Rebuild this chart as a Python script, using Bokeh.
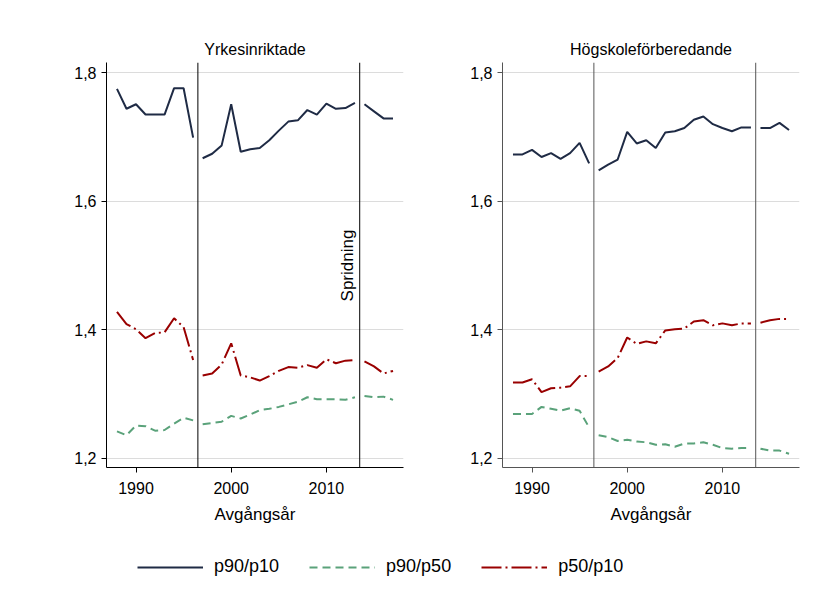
import math
from bokeh.plotting import figure
from bokeh.models import Span, Label, FixedTicker, Legend, LegendItem, Range1d
from bokeh.layouts import column, row
from bokeh.embed import file_html
from bokeh.resources import INLINE

# ---------------- data ----------------
years = list(range(1988, 2018))
series_breaks = [1996.5, 2013.5]
panel_titles = ["Yrkesinriktade", "Högskoleförberedande"]
series_labels = ["p90/p10", "p90/p50", "p50/p10"]
x_ticks = [1990, 2000, 2010]
y_ticks = [1.2, 1.4, 1.6, 1.8]
y_tick_labels = ["1,2", "1,4", "1,6", "1,8"]
x_label = "Avgångsår"
note_text = "Spridning"

yrk_p90p10 = [1.775, 1.744, 1.751, 1.735, 1.735, 1.735, 1.776, 1.776, 1.699,
              1.667, 1.674, 1.687, 1.751, 1.677, 1.681, 1.683, 1.695, 1.710, 1.724,
              1.726, 1.742, 1.735, 1.752, 1.744, 1.745, 1.753,
              1.751, 1.740, 1.729, 1.729]
yrk_p90p50 = [1.242, 1.236, 1.251, 1.250, 1.243, 1.244, 1.254, 1.263, 1.259,
              1.253, 1.255, 1.257, 1.266, 1.262, 1.268, 1.275, 1.277, 1.280, 1.284,
              1.288, 1.295, 1.292, 1.292, 1.292, 1.291, 1.295,
              1.297, 1.295, 1.296, 1.291]
yrk_p50p10 = [1.428, 1.409, 1.401, 1.387, 1.395, 1.396, 1.418, 1.404, 1.353,
              1.329, 1.332, 1.346, 1.379, 1.329, 1.326, 1.321, 1.328, 1.336, 1.342,
              1.341, 1.345, 1.341, 1.354, 1.348, 1.352, 1.353,
              1.351, 1.343, 1.332, 1.336]

hog_p90p10 = [1.673, 1.673, 1.680, 1.669, 1.675, 1.666, 1.675, 1.691, 1.659,
              1.648, 1.657, 1.665, 1.708, 1.690, 1.695, 1.683, 1.707, 1.709, 1.714,
              1.727, 1.732, 1.720, 1.714, 1.709, 1.715, 1.715,
              1.714, 1.714, 1.722, 1.711]
hog_p90p50 = [1.269, 1.269, 1.269, 1.280, 1.277, 1.274, 1.278, 1.274, 1.248,
              1.236, 1.233, 1.227, 1.229, 1.226, 1.225, 1.221, 1.222, 1.218, 1.223,
              1.223, 1.225, 1.221, 1.216, 1.215, 1.216, 1.216,
              1.215, 1.212, 1.212, 1.207]
hog_p50p10 = [1.318, 1.318, 1.323, 1.303, 1.309, 1.310, 1.312, 1.328, 1.328,
              1.335, 1.343, 1.356, 1.388, 1.378, 1.382, 1.379, 1.399, 1.401, 1.402,
              1.413, 1.415, 1.407, 1.410, 1.407, 1.410, 1.410,
              1.411, 1.415, 1.417, 1.417]

# ---------------- style ----------------
FONT = "Liberation Sans"
colors = ["#1f2b45", "#5aa27a", "#990000"]
dashes = ["solid", "8 5", "20 4 2 4"]
LW = 2

panels = [
    (panel_titles[0], [yrk_p90p10, yrk_p90p50, yrk_p50p10], "black", 106, 8, True),
    (panel_titles[1], [hog_p90p10, hog_p90p50, hog_p50p10], "#555555", 91, 11, False),
]

bounds = [-math.inf] + series_breaks + [math.inf]
figs = []
for title, series, axcol, bl, br, with_note in panels:
    p = figure(frame_width=297, frame_height=405,
               x_range=Range1d(1986.9, 2018.1), y_range=Range1d(1.1857, 1.816),
               output_backend="svg", toolbar_location=None,
               min_border_left=bl, min_border_right=br,
               min_border_top=62, min_border_bottom=63)
    p.title.text = title
    p.title.align = "center"
    p.title.text_font = FONT
    p.title.text_font_size = "16px"
    p.title.text_font_style = "normal"
    p.title.text_color = "black"
    p.outline_line_color = None
    p.background_fill_color = "white"
    p.border_fill_color = "white"

    p.xaxis.ticker = FixedTicker(ticks=x_ticks)
    p.yaxis.ticker = FixedTicker(ticks=y_ticks)
    p.yaxis.major_label_overrides = {t: l for t, l in zip(y_ticks, y_tick_labels)}
    p.xaxis.axis_label = x_label
    for ax in (p.xaxis[0], p.yaxis[0]):
        ax.axis_line_color = axcol
        ax.major_tick_line_color = axcol
        ax.minor_tick_line_color = None
        ax.major_tick_out = 5
        ax.major_tick_in = 0
        ax.major_label_text_font = FONT
        ax.major_label_text_font_size = "16px"
        ax.major_label_text_color = "black"
        ax.axis_label_text_font = FONT
        ax.axis_label_text_font_size = "17px"
        ax.axis_label_text_font_style = "normal"
        ax.axis_label_text_color = "black"
    p.xaxis.major_label_standoff = 9
    p.xaxis.axis_label_standoff = 8
    p.yaxis.major_label_standoff = 5
    p.yaxis.major_label_orientation = "horizontal"
    p.xgrid.visible = False
    p.ygrid.grid_line_color = "#dcdcdc"
    p.ygrid.grid_line_width = 1

    for b in series_breaks:
        p.add_layout(Span(location=b, dimension="height", line_color=axcol, line_width=1))

    for vals, c, d in zip(series, colors, dashes):
        for lo, hi in zip(bounds[:-1], bounds[1:]):
            xs = [yr for yr in years if lo < yr < hi]
            ys = [v for yr, v in zip(years, vals) if lo < yr < hi]
            p.line(xs, ys, line_color=c, line_width=LW, line_dash=d)

    if with_note:
        p.add_layout(Label(x=series_breaks[1], y=1.5, x_offset=-3, text=note_text,
                           angle=math.pi / 2, text_align="center", text_baseline="bottom",
                           text_font=FONT, text_font_size="17px", text_color="black"))
    figs.append(p)

# ---------------- legend (its own strip; its renderers sit outside the visible range) ----------------
lg = figure(frame_width=810, frame_height=60, x_range=Range1d(0, 1), y_range=Range1d(0, 1),
            output_backend="svg", toolbar_location=None,
            min_border_left=0, min_border_right=0, min_border_top=0, min_border_bottom=0)
lg.axis.visible = False
lg.grid.visible = False
lg.outline_line_color = None
items = []
for lab, vals, c, d in zip(series_labels, [yrk_p90p10, yrk_p90p50, yrk_p50p10], colors, dashes):
    r = lg.line(years, vals, line_color=c, line_width=LW, line_dash=d)
    items.append(LegendItem(label=lab, renderers=[r]))
leg = Legend(items=items, orientation="horizontal", location=(137, 13),
             glyph_width=66, glyph_height=20, label_standoff=11, spacing=30,
             padding=0, margin=0, border_line_color=None, background_fill_alpha=0,
             label_text_font=FONT, label_text_font_size="18px", label_text_color="black")
lg.add_layout(leg, "center")

layout = column(row(figs[0], figs[1]), lg)
open("out.html", "w").write(file_html(layout, INLINE))
